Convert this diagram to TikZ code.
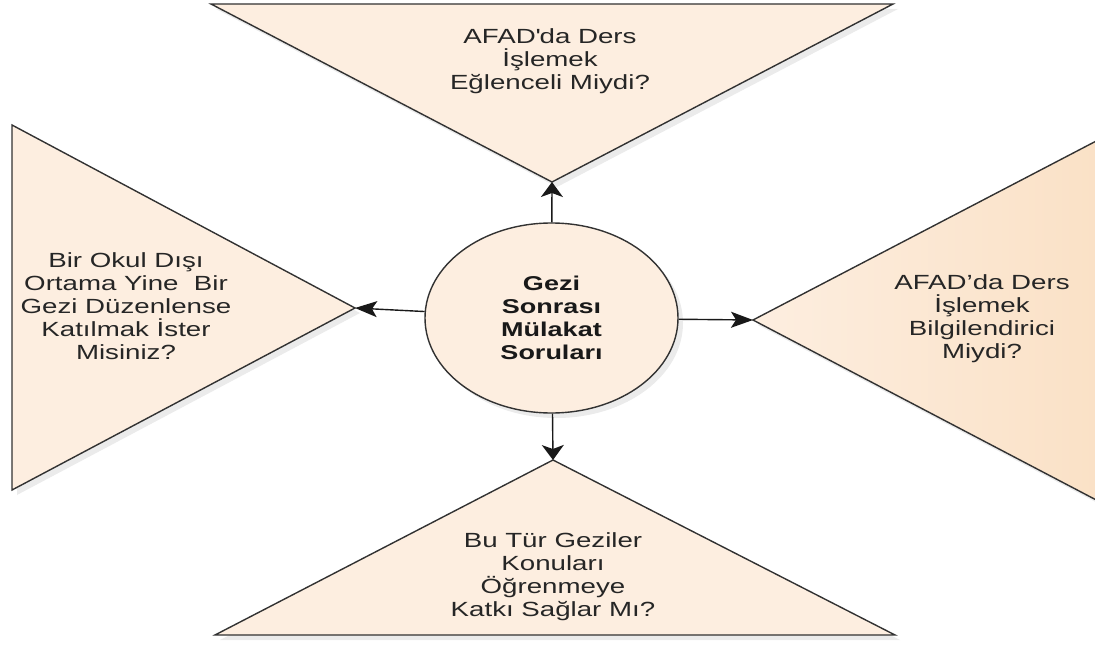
\documentclass[tikz,border=0pt]{standalone}
\usepackage{fontspec}
\setmainfont{Liberation Sans}[FakeStretch=1.35]
\usepackage{tikz}
\usetikzlibrary{shapes.geometric, arrows.meta, shadows}
\definecolor{peach}{RGB}{253,238,224}
\definecolor{peachdark}{RGB}{250,225,198}
\definecolor{edge}{RGB}{50,50,50}
\tikzstyle{tri} = [draw=edge, line width=1.4pt, fill=peach, drop shadow={shadow xshift=5pt, shadow yshift=-5pt, opacity=0.16}]
\tikzstyle{topic} = [ellipse, minimum width=253pt, minimum height=190pt, inner sep=0pt, align=center, draw=edge, line width=1.4pt, fill=peach, text=black!90, font=\bfseries\fontsize{20}{23}\selectfont, drop shadow={shadow xshift=5pt, shadow yshift=-5pt, opacity=0.16}]
\tikzstyle{question} = [align=center, inner sep=0pt, text=black!85, font=\fontsize{20.5}{23}\selectfont]
\tikzstyle{harrow} = [line width=1.4pt, draw=black!90, -{Stealth[length=22pt, width=16pt, inset=5pt]}]
\tikzstyle{varrow} = [line width=1.4pt, draw=black!90, -{Stealth[length=15pt, width=22pt, inset=4pt]}]

\begin{document}
\begin{tikzpicture}[x=1pt, y=-1pt]
                \useasboundingbox (0,0) rectangle (1095,650);
                \coordinate (tip1) at (552,182);
                \coordinate (tip2) at (355,308);
                \coordinate (tip3) at (753,320);
                \coordinate (tip4) at (553,460);
                \path [tri] (211,4) -- (893,4) -- (tip1) -- cycle;
                \path [tri] (12,125) -- (tip2) -- (12,490) -- cycle;
                \path [tri, left color=peach, right color=peachdark] (1102,138) -- (tip3) -- (1102,503) -- cycle;
                \path [tri] (tip4) -- (895,635) -- (215,635) -- cycle;
                \node (gezi) [topic] at (551.5,318) {Gezi\\Sonrası\\Mülakat\\Soruları};
                \node (q1) [question] at (550,61) {AFAD\textquotesingle da Ders\\İşlemek\\Eğlenceli Miydi?};
                \node (q2) [question] at (126,306) {Bir Okul Dışı\\Ortama Yine\ \ Bir\\Gezi Düzenlense\\Katılmak İster\\Misiniz?};
                \node (q3) [question] at (982,319) {AFAD’da Ders\\İşlemek\\Bilgilendirici\\Miydi?};
                \node (q4) [question] at (553,577) {Bu Tür Geziler\\Konuları\\Öğrenmeye\\Katkı Sağlar Mı?};
                \draw [varrow] (gezi) -- (tip1);
                \draw [harrow] (gezi) -- (tip2);
                \draw [harrow] (gezi) -- (tip3);
                \draw [varrow] (gezi) -- (tip4);
            \end{tikzpicture}
\end{document}
